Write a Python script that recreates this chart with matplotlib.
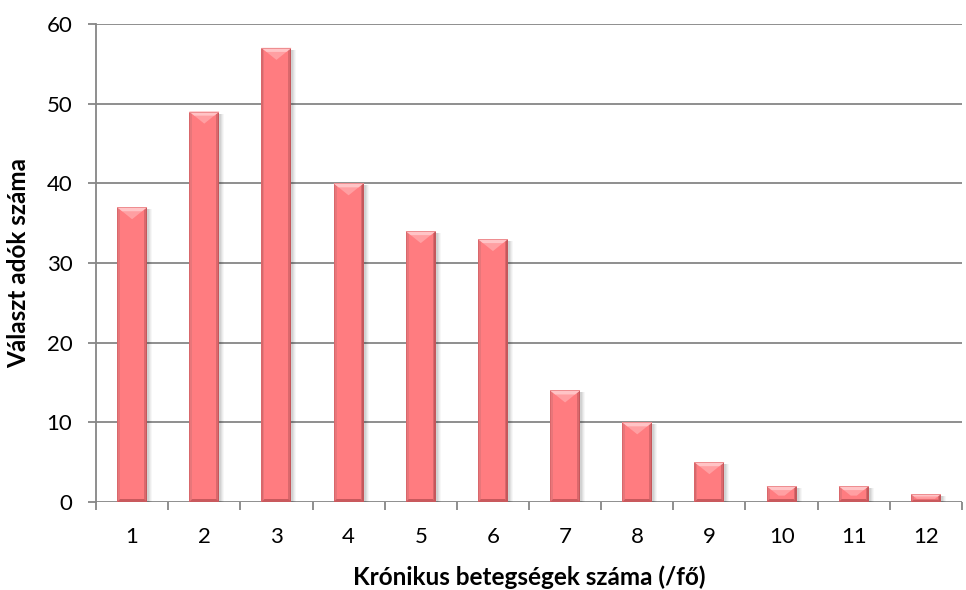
import matplotlib
matplotlib.use("Agg")
import matplotlib.pyplot as plt
from matplotlib.patches import Polygon, Rectangle
from matplotlib.ticker import FixedLocator, NullFormatter

plt.rcParams['font.family'] = ['Lato', 'DejaVu Sans']

# Data
categories = ["1", "2", "3", "4", "5", "6", "7", "8", "9", "10", "11", "12"]
values = [37, 49, 57, 40, 34, 33, 14, 10, 5, 2, 2, 1]
y_ticks = [0, 10, 20, 30, 40, 50, 60]
x_title = "Krónikus betegségek száma (/fő)"
y_title = "Választ adók száma"

BAR = "#FF7C80"
GRID = "#868686"

fig = plt.figure(figsize=(9.66, 5.90), dpi=100)
ax = fig.add_axes([96 / 966, 88 / 590, 866 / 966, 478 / 590])

n = len(categories)
xs = list(range(1, n + 1))
ax.set_xlim(0.5, n + 0.5)
ax.set_ylim(0, 60)

# px -> data unit scales
ux = n / 866.0
uy = 60 / 478.0

bw = 0.415
bars = ax.bar(xs, values, width=bw, color=BAR, edgecolor="none", zorder=3)

for b in bars:
    L = b.get_x()
    R = L + b.get_width()
    T = b.get_height()
    B = 0.0
    w = R - L
    cx = (L + R) / 2
    hpx = T / uy
    # soft drop shadow to the right
    for k, a in [(5, 0.03), (4, 0.04), (3, 0.05), (2, 0.06)]:
        ax.add_patch(Rectangle((L + 2 * ux, B), w + (k - 2) * ux, T - 2 * uy,
                               facecolor="black", alpha=a, edgecolor="none", zorder=2))
    # side and bottom bevels
    side = 3.0 * ux
    ax.add_patch(Rectangle((L, B), side, T, facecolor="#D9676B",
                           edgecolor="none", zorder=4))
    ax.add_patch(Rectangle((L + side * 0.4, B), side * 0.6, T, facecolor="#E8767A",
                           edgecolor="none", zorder=4))
    ax.add_patch(Rectangle((R - side, B), side, T, facecolor="#C5575B",
                           edgecolor="none", zorder=4))
    ax.add_patch(Rectangle((R - side, B), side * 0.5, T, facecolor="#DA686C",
                           edgecolor="none", zorder=4))
    bot = min(3.0 * uy, T * 0.3)
    ax.add_patch(Polygon([(L, B), (R, B), (R - side, B + bot), (L + side, B + bot)],
                         closed=True, facecolor="#C9595D", edgecolor="none", zorder=4))
    # top bevel facet (chevron)
    D = 12.0 * uy
    d = min(D, T * 0.6)
    t = (w / 2) * (d / D)
    ax.add_patch(Polygon([(L, T), (R, T), (R - t, T - d), (L + t, T - d)],
                         closed=True, facecolor="#FF9FA2", edgecolor="none", zorder=5))
    d2 = min(4.0 * uy, d * 0.5)
    t2 = (w / 2) * (d2 / D)
    ax.add_patch(Polygon([(L, T), (R, T), (R - t2, T - d2), (L + t2, T - d2)],
                         closed=True, facecolor="#FFC4C6", edgecolor="none", zorder=5))
    ax.add_patch(Rectangle((L, T - 1.0 * uy), w, 1.0 * uy, facecolor="#EE8E91",
                           edgecolor="none", zorder=5))

# Grid and axes
ax.set_yticks(y_ticks)
ax.yaxis.grid(True, color=GRID, linewidth=1.3, zorder=0)
ax.set_axisbelow(True)
for s in ["top", "right", "bottom"]:
    ax.spines[s].set_visible(False)
ax.spines["left"].set_color(GRID)
ax.spines["left"].set_linewidth(1.3)

ax.tick_params(axis="y", length=6, width=1.3, color=GRID, pad=11,
               labelsize=16, labelcolor="black")
ax.set_xticks(xs)
ax.set_xticklabels(categories)
ax.tick_params(axis="x", which="major", length=0, pad=18, labelsize=16, labelcolor="black")
ax.xaxis.set_minor_locator(FixedLocator([i + 0.5 for i in range(0, n + 1)]))
ax.xaxis.set_minor_formatter(NullFormatter())
ax.tick_params(axis="x", which="minor", length=6, width=1.3, color=GRID, direction="out")

fig.text(529 / 966, 1 - 577 / 590, x_title, ha="center", va="center",
         fontsize=17.5, fontweight="bold")
fig.text(19 / 966, 1 - 263 / 590, y_title, ha="center", va="center",
         rotation=90, fontsize=17.5, fontweight="bold")

fig.savefig("out.png", dpi=100)
